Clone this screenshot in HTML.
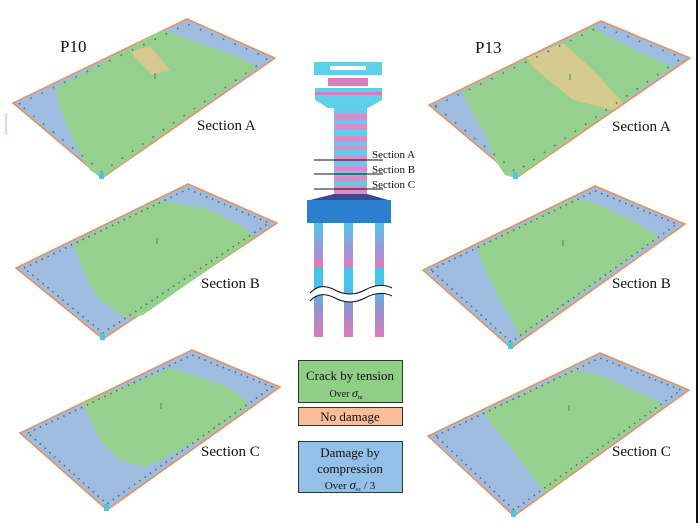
<!DOCTYPE html>
<html><head><meta charset="utf-8"><style>
html,body{margin:0;padding:0;background:#fff;}
svg{display:block;}
text{font-family:"Liberation Serif",serif;fill:#111;}
</style></head><body>
<svg width="700" height="523" viewBox="0 0 700 523" xmlns="http://www.w3.org/2000/svg">
<defs>
<linearGradient id="col" x1="0" y1="0" x2="0" y2="1">
<stop offset="0" stop-color="#5fd0ea"/><stop offset="0.5" stop-color="#d88bc8"/><stop offset="1" stop-color="#e07cc0"/>
</linearGradient>
<linearGradient id="pile" x1="0" y1="0" x2="0" y2="1">
<stop offset="0" stop-color="#4fc6ea"/><stop offset="0.3" stop-color="#b58ad0"/><stop offset="0.38" stop-color="#e07ab8"/><stop offset="0.4" stop-color="#45c3ea"/><stop offset="0.55" stop-color="#45c3ea"/><stop offset="0.75" stop-color="#8f95d0"/><stop offset="1" stop-color="#e07ab8"/>
</linearGradient>
</defs>
<line x1="697" y1="0" x2="697" y2="523" stroke="#111" stroke-width="2"/>
<line x1="6" y1="113" x2="6" y2="135" stroke="#f0a0a0" stroke-width="1"/>

<!-- Left A -->
<polygon points="13,103 187,19 275,58 102,178" fill="#9dbce0" stroke="#e8905a" stroke-width="1.5"/>
<polygon points="55,88 162,30 200,43 240,58 258,67 102,178 90,170 78,150 68,128 60,108" fill="#96d08e"/>
<polygon points="130,52 150,46 170,70 152,75" fill="#d8c890"/>
<polygon points="19,104 187,24 268,58 102,172 z" fill="none" stroke="#666" stroke-width="1.6" stroke-dasharray="1.5,11"/>
<rect x="99" y="172" width="5" height="7" fill="#4cc8d8"/>
<line x1="155" y1="73" x2="155" y2="79" stroke="#2a9a3a"/>

<!-- Left B -->
<polygon points="16,268 188,184 277,223 103,339" fill="#9dbce0" stroke="#e8905a" stroke-width="1.5"/>
<polygon points="73,243 158,200 205,208 240,225 255,237 143,315 125,318 100,300 88,282 80,262" fill="#96d08e"/>
<polygon points="24,268 188,189 269,223 103,333 z" fill="none" stroke="#666" stroke-width="1.6" stroke-dasharray="1.5,5"/>
<rect x="100" y="333" width="5" height="7" fill="#4cc8d8"/>
<line x1="157" y1="238" x2="157" y2="244" stroke="#2a9a3a"/>

<!-- Left C -->
<polygon points="20,433 192,350 280,387 107,510" fill="#9dbce0" stroke="#e8905a" stroke-width="1.5"/>
<polygon points="82,403 170,368 200,377 230,388 250,405 210,435 170,455 145,467 120,460 100,440 90,420" fill="#96d08e"/>
<polygon points="28,433 192,355 272,387 107,504 z" fill="none" stroke="#666" stroke-width="1.6" stroke-dasharray="1.5,5"/>
<rect x="104" y="504" width="5" height="7" fill="#4cc8d8"/>
<line x1="161" y1="403" x2="161" y2="409" stroke="#2a9a3a"/>

<!-- Right A -->
<polygon points="429,105 601,21 690,58 516,178" fill="#9dbce0" stroke="#e8905a" stroke-width="1.5"/>
<polygon points="462,91 592,27 615,40 650,57 673,67 516,178 505,175 495,160 485,135 472,112" fill="#96d08e"/>
<polygon points="527,58 563,43 593,70 623,103 613,110 573,100 533,67" fill="#d6cb8e"/>
<polygon points="435,106 601,26 682,58 516,172 z" fill="none" stroke="#666" stroke-width="1.6" stroke-dasharray="1.5,11"/>
<rect x="513" y="172" width="5" height="7" fill="#4cc8d8"/>
<line x1="570" y1="74" x2="570" y2="80" stroke="#2a9a3a"/>

<!-- Right B -->
<polygon points="423,270 595,186 685,224 511,348" fill="#9dbce0" stroke="#e8905a" stroke-width="1.5"/>
<polygon points="477,247 575,198 600,205 640,225 660,237 520,338 512,320 500,300 490,280 482,262" fill="#96d08e"/>
<polygon points="431,270 595,191 677,224 511,342 z" fill="none" stroke="#666" stroke-width="1.6" stroke-dasharray="1.5,5"/>
<rect x="508" y="342" width="5" height="7" fill="#4cc8d8"/>
<line x1="563" y1="240" x2="563" y2="246" stroke="#2a9a3a"/>

<!-- Right C -->
<polygon points="428,436 600,353 689,390 514,516" fill="#9dbce0" stroke="#e8905a" stroke-width="1.5"/>
<polygon points="483,412 575,370 600,375 640,393 665,405 545,493 535,480 520,460 505,440 492,425" fill="#96d08e"/>
<polygon points="436,436 600,358 681,390 514,510 z" fill="none" stroke="#666" stroke-width="1.6" stroke-dasharray="1.5,5"/>
<rect x="511" y="510" width="5" height="7" fill="#4cc8d8"/>
<line x1="569" y1="405" x2="569" y2="411" stroke="#2a9a3a"/>

<!-- Labels -->
<text x="60" y="52" font-size="17">P10</text>
<text x="475" y="53" font-size="17">P13</text>
<text x="197" y="130" font-size="15">Section A</text>
<text x="201" y="288" font-size="15">Section B</text>
<text x="201" y="456" font-size="15">Section C</text>
<text x="612" y="131" font-size="15">Section A</text>
<text x="612" y="288" font-size="15">Section B</text>
<text x="612" y="456" font-size="15">Section C</text>

<!-- Pier -->
<rect x="314" y="62" width="68" height="13" fill="#5fd0ea"/>
<rect x="330" y="66" width="36" height="4" fill="#fff"/>
<rect x="328" y="78" width="40" height="8" fill="#d87cc0"/>
<polygon points="315,88 382,88 382,100 368,108 328,108 315,100" fill="#5fd0ea"/>
<rect x="315" y="92" width="67" height="3" fill="#d87cc0"/>
<rect x="334" y="108" width="33" height="89" fill="#62cde8"/>
<g fill="#d88cc8">
<rect x="334" y="114" width="33" height="5"/><rect x="334" y="124" width="33" height="5"/>
<rect x="334" y="136" width="33" height="5"/><rect x="334" y="146" width="33" height="4"/>
<rect x="334" y="156" width="33" height="5"/><rect x="334" y="166" width="33" height="5"/>
<rect x="334" y="176" width="33" height="6"/><rect x="334" y="185" width="33" height="12"/>
</g>
<polygon points="334,194 367,194 388,200 310,200" fill="#3a4a90"/>
<rect x="307" y="200" width="84" height="23" fill="#2a80cc"/>
<rect x="314" y="223" width="9" height="114" fill="url(#pile)"/>
<rect x="344" y="223" width="9" height="114" fill="url(#pile)"/>
<rect x="375" y="223" width="9" height="114" fill="url(#pile)"/>
<path d="M310,293 Q320,282 335,290 T365,290 T392,288 L392,296 Q380,290 365,298 T335,298 T310,301 Z" fill="#fff"/>
<path d="M310,293 Q320,282 335,290 T365,290 T392,288" fill="none" stroke="#111" stroke-width="1"/>
<path d="M310,301 Q320,290 335,298 T365,298 T392,296" fill="none" stroke="#111" stroke-width="1"/>
<line x1="314" y1="160" x2="383" y2="160" stroke="#111" stroke-width="1"/>
<line x1="314" y1="174" x2="383" y2="174" stroke="#111" stroke-width="1"/>
<line x1="314" y1="189" x2="383" y2="189" stroke="#111" stroke-width="1"/>
<text x="372" y="158" font-size="11">Section A</text>
<text x="372" y="173" font-size="11">Section B</text>
<text x="372" y="188" font-size="11">Section C</text>

<!-- Legend -->
<rect x="298.5" y="360.5" width="104" height="42" fill="#8fcf86" stroke="#2a3a30"/>
<text x="350" y="380" font-size="13" text-anchor="middle">Crack by tension</text>
<text x="346" y="397" font-size="10" text-anchor="middle">Over <tspan font-style="italic" font-size="12">σ</tspan><tspan font-size="6" dy="2">tu</tspan></text>
<rect x="298.5" y="407.5" width="104" height="18" fill="#f7be98" stroke="#2a3a30"/>
<text x="350" y="421" font-size="13" text-anchor="middle">No damage</text>
<rect x="298.5" y="441.5" width="104" height="51" fill="#92c0e8" stroke="#2a3a30"/>
<text x="350" y="457" font-size="13" text-anchor="middle">Damage by</text>
<text x="350" y="473" font-size="13" text-anchor="middle">compression</text>
<text x="350" y="489" font-size="11" text-anchor="middle">Over <tspan font-style="italic" font-size="13">σ</tspan><tspan font-size="6" dy="2">cc</tspan><tspan dy="-2"> / 3</tspan></text>
</svg>
</body></html>
